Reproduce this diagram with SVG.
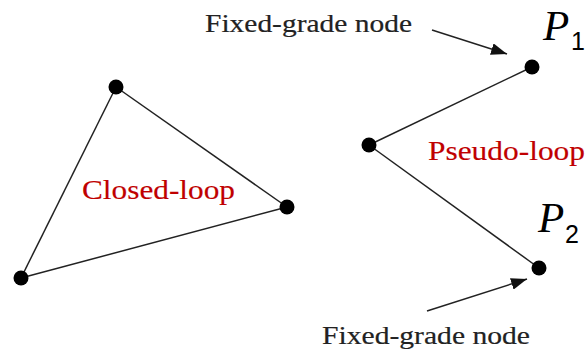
<svg xmlns="http://www.w3.org/2000/svg" width="587" height="353" viewBox="0 0 587 353">
<defs>
<style>
.edge{stroke:#222;stroke-width:1.5;fill:none}
.arrow{stroke:#222;stroke-width:1.5;fill:none;marker-end:url(#ah)}
.dot{fill:#000}
.lbl{font-family:"Liberation Serif","Times New Roman",serif;font-size:26px;fill:#222;stroke:#222;stroke-width:0.2}
.red{font-family:"Liberation Serif","Times New Roman",serif;font-size:27px;fill:#c00000;stroke:#c00000;stroke-width:0.15}
.math{font-family:"Liberation Serif","Times New Roman",serif;font-style:italic;fill:#000}
.sub{font-family:"Liberation Sans",Arial,sans-serif;font-size:25px;fill:#000}
</style>
<marker id="ah" viewBox="0 0 16 12" refX="16" refY="6" markerWidth="16" markerHeight="12" markerUnits="userSpaceOnUse" orient="auto">
<path d="M0,0 L16,6 L0,12 Z" fill="#111"/>
</marker>
</defs>
<g id="connectors">
<line class="edge" x1="116" y1="87" x2="287" y2="207"/>
<line class="edge" x1="287" y1="207" x2="21" y2="278"/>
<line class="edge" x1="21" y1="278" x2="116" y2="87"/>
<line class="edge" x1="369" y1="145" x2="532" y2="67"/>
<line class="edge" x1="369" y1="145" x2="539" y2="268"/>
<line class="arrow" x1="432" y1="30" x2="507" y2="54"/>
<line class="arrow" x1="427" y1="311" x2="527" y2="279"/>
</g>
<g id="node-a"><circle class="dot" cx="116" cy="87" r="7.5"/></g>
<g id="node-b"><circle class="dot" cx="287" cy="207" r="7.5"/></g>
<g id="node-c"><circle class="dot" cx="21" cy="278" r="7.5"/></g>
<g id="node-d"><circle class="dot" cx="369" cy="145" r="7.5"/></g>
<g id="node-p1">
<circle class="dot" cx="532" cy="67" r="7.5"/>
<text class="math" x="543" y="40" font-size="43">P</text>
<text class="sub" x="571" y="50">1</text>
</g>
<g id="node-p2">
<circle class="dot" cx="539" cy="268" r="7.5"/>
<text class="math" x="538" y="232" font-size="43">P</text>
<text class="sub" x="565" y="243">2</text>
</g>
<g id="labels">
<text class="lbl" x="205" y="32" textLength="207" lengthAdjust="spacingAndGlyphs">Fixed-grade node</text>
<text class="lbl" x="322" y="344" textLength="208" lengthAdjust="spacingAndGlyphs">Fixed-grade node</text>
<text class="red" x="82" y="199" textLength="153" lengthAdjust="spacingAndGlyphs">Closed-loop</text>
<text class="red" x="428" y="160" textLength="157" lengthAdjust="spacingAndGlyphs">Pseudo-loop</text>
</g>
</svg>
